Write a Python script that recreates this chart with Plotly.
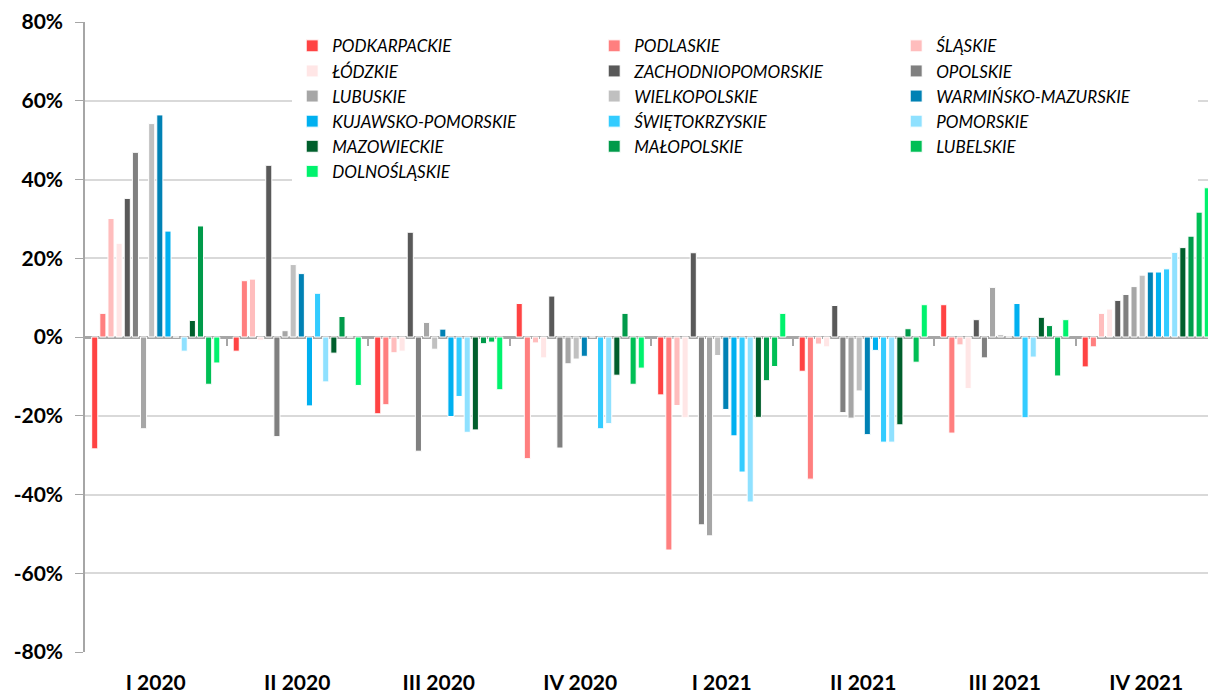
import plotly.graph_objects as go

quarters = ["I 2020", "II 2020", "III 2020", "IV 2020",
            "I 2021", "II 2021", "III 2021", "IV 2021"]

regions = [
    "PODKARPACKIE", "PODLASKIE", "ŚLĄSKIE", "ŁÓDZKIE",
    "ZACHODNIOPOMORSKIE", "OPOLSKIE", "LUBUSKIE", "WIELKOPOLSKIE",
    "WARMIŃSKO-MAZURSKIE", "KUJAWSKO-POMORSKIE", "ŚWIĘTOKRZYSKIE", "POMORSKIE",
    "MAZOWIECKIE", "MAŁOPOLSKIE", "LUBELSKIE", "DOLNOŚLĄSKIE",
]

colors = [
    "#ff4343", "#ff7f7f", "#ffbdbd", "#ffe6e6",
    "#595959", "#808080", "#a6a6a6", "#c0c0c0",
    "#0081b4", "#00b0f0", "#33ccff", "#8fe1ff",
    "#005f2c", "#009a4a", "#00bf55", "#00f26d",
]

# change in %, one list per quarter, in the order of `regions`
q1_2020 = [-28.4, 6.0, 30.1, 23.8, 35.2, 46.9, -23.3, 54.2,
           56.4, 26.9, 0.0, -3.6, 4.2, 28.2, -12.0, -6.6]
q2_2020 = [-3.6, 14.3, 14.7, -0.8, 43.6, -25.3, 1.6, 18.4,
           16.1, -17.5, 11.1, -11.4, -4.1, 5.2, 0.0, -12.3]
q3_2020 = [-19.5, -17.2, -4.0, -3.6, 26.6, -29.0, 3.7, -3.1,
           2.0, -20.2, -15.1, -24.2, -23.6, -1.7, -1.3, -13.4]
q4_2020 = [8.5, -30.9, -1.5, -5.3, 10.4, -28.2, -6.8, -5.6,
           -4.9, 0.0, -23.3, -22.0, -9.7, 6.0, -12.0, -7.9]
q1_2021 = [-14.7, -54.1, -17.4, -20.5, 21.4, -47.7, -50.5, -4.7,
           -18.4, -25.1, -34.3, -41.9, -20.4, -11.1, -7.5, 6.0]
q2_2021 = [-8.7, -36.1, -1.8, -2.5, 8.0, -19.2, -20.6, -13.7,
           -24.8, -3.4, -26.7, -26.7, -22.3, 2.1, -6.4, 8.2]
q3_2021 = [8.2, -24.4, -2.0, -13.1, 4.4, -5.3, 12.6, 0.6,
           0.0, 8.5, -20.5, -5.1, 5.0, 2.9, -9.9, 4.4]
q4_2021 = [-7.6, -2.5, 6.0, 7.1, 9.3, 10.8, 12.8, 15.7,
           16.5, 16.5, 17.3, 21.5, 22.7, 25.6, 31.7, 37.9]

by_quarter = [q1_2020, q2_2020, q3_2020, q4_2020,
              q1_2021, q2_2021, q3_2021, q4_2021]

y_ticks = [-80, -60, -40, -20, 0, 20, 40, 60, 80]

FONT = "Lato"
AXIS_GRAY = "#a6a6a6"

fig = go.Figure()

for i, (name, color) in enumerate(zip(regions, colors)):
    fig.add_trace(go.Bar(
        x=quarters,
        y=[q[i] for q in by_quarter],
        name=name,
        marker=dict(color=color, line=dict(color="white", width=1)),
    ))

# empty trace so the boundary-tick axis gets drawn
fig.add_trace(go.Scatter(x=[], y=[], xaxis="x2", showlegend=False,
                         hoverinfo="skip"))

x_range = [-0.5, len(quarters) - 0.5 - 9 / 141.5]

fig.update_layout(
    width=1208,
    height=695,
    margin=dict(l=85, r=0, t=22, b=43),
    plot_bgcolor="white",
    paper_bgcolor="white",
    barmode="group",
    bargap=0.08,
    bargroupgap=0.25,
    font=dict(family=FONT, color="black"),
    xaxis=dict(
        type="category",
        range=x_range,
        automargin=False,
        showgrid=False,
        showline=False,
        zeroline=False,
        ticks="",
        ticklabelstandoff=16,
        tickfont=dict(family=FONT, size=21, weight="bold"),
    ),
    xaxis2=dict(
        overlaying="x",
        anchor="free",
        position=0.5,
        range=x_range,
        automargin=False,
        tickvals=[i + 0.5 for i in range(len(quarters) - 1)],
        ticks="outside",
        ticklen=8,
        tickwidth=1.5,
        tickcolor=AXIS_GRAY,
        showticklabels=False,
        showgrid=False,
        showline=False,
        zeroline=False,
    ),
    yaxis=dict(
        range=[-80, 80],
        automargin=False,
        tickvals=y_ticks,
        ticktext=[f"{v}%" for v in y_ticks],
        ticks="outside",
        ticklen=8,
        tickcolor=AXIS_GRAY,
        ticklabelstandoff=8,
        showline=True,
        linecolor=AXIS_GRAY,
        linewidth=1.5,
        gridcolor="#d9d9d9",
        gridwidth=1.5,
        zeroline=True,
        zerolinecolor=AXIS_GRAY,
        zerolinewidth=2.5,
        tickfont=dict(family=FONT, size=21, weight="bold"),
    ),
    legend=dict(
        orientation="h",
        x=0.1845,
        y=0.99,
        xanchor="left",
        yanchor="top",
        bgcolor="white",
        entrywidth=257,
        entrywidthmode="pixels",
        font=dict(family=FONT, size=17, style="italic"),
        traceorder="normal",
    ),
    showlegend=True,
)

# the page's default body margin would shift the chart by 8px
fig.write_html(
    "out.html",
    config={"displayModeBar": False},
    post_script="document.body.style.margin = '0';",
)
